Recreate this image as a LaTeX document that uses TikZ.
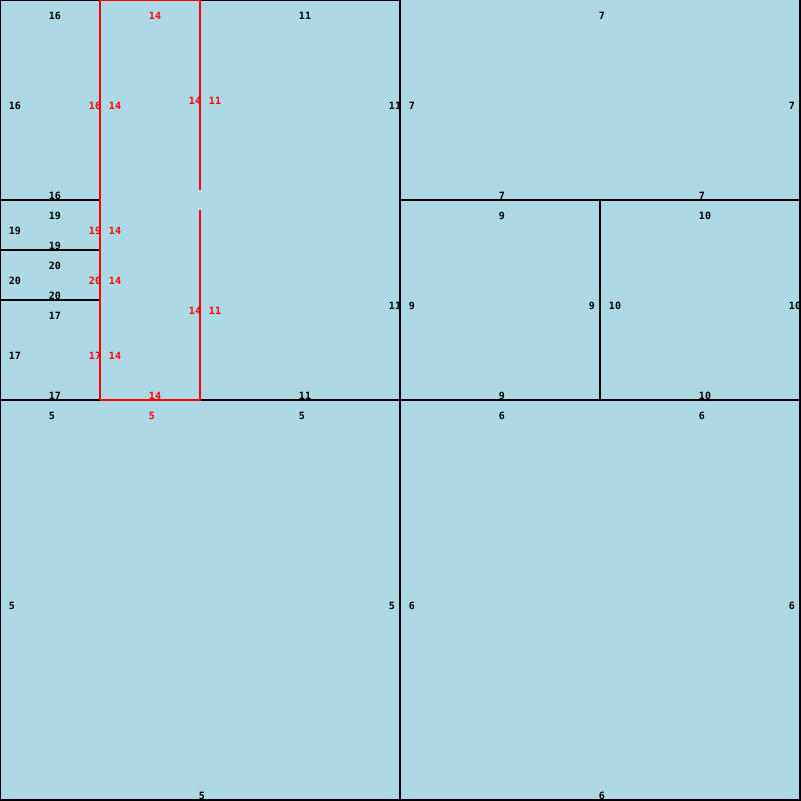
\documentclass[tikz,border=0pt]{standalone}
\usepackage{fontspec}
\newfontfamily\cellfont{DejaVu Sans Mono}
\usetikzlibrary{positioning}
\definecolor{cellblue}{HTML}{ADD8E6}

\begin{document}
\begin{tikzpicture}[x=1pt,y=-1pt,
    cellid/.style={font=\cellfont\bfseries\fontsize{10}{10}\selectfont,inner sep=0pt},
    hotid/.style={cellid,text=red},
    wall/.style={black,line width=2pt},
    hotwall/.style={red,line width=2pt}]
    \useasboundingbox (0,0) rectangle (801,801);
    \clip (0,0) rectangle (801,801);
    \fill[cellblue] (0,0) rectangle (801,801);

    % edge labels of each cell
    \foreach \x/\y/\t [count=\i] in {55/16/16,15/106/16,55/196/16,
      55/216/19,15/231/19,55/246/19,
      55/266/20,15/281/20,55/296/20,
      55/316/17,15/356/17,55/396/17,
      305/16/11,395/106/11,395/306/11,305/396/11,
      602/16/7,412/106/7,792/106/7,502/196/7,702/196/7,
      502/216/9,412/306/9,592/306/9,502/396/9,
      705/216/10,615/306/10,795/306/10,705/396/10,
      52/416/5,302/416/5,12/606/5,392/606/5,202/796/5,
      502/416/6,702/416/6,412/606/6,792/606/6,602/796/6}
      \node[cellid] (lab\i) at (\x,\y) {\t};

    % labels next to the marked cell
    \foreach \x/\y/\t [count=\i] in {95/106/16,95/231/19,95/281/20,95/356/17,
      155/16/14,115/106/14,115/231/14,115/281/14,115/356/14,
      195/101/14,195/311/14,155/396/14,
      215/101/11,215/311/11,152/416/5}
      \node[hotid] (hot\i) at (\x,\y) {\t};

    \draw[wall] (0,0) -- (0,800) -- (800,800) -- (800,0);
    \draw[wall] (0,0) -- (100,0) (200,0) -- (400,0);
    \draw[wall] (400,0) -- (400,800);
    \draw[wall] (0,400) -- (100,400) (200,400) -- (800,400);
    \draw[wall] (0,200) -- (100,200) (0,250) -- (100,250) (0,300) -- (100,300);
    \draw[wall] (400,200) -- (800,200);
    \draw[wall] (600,200) -- (600,400);

    \draw[hotwall] (100,400) -- (100,0) -- (200,0) -- (200,190);
    \draw[hotwall] (200,210) -- (200,400) -- (100,400);
  \end{tikzpicture}
\end{document}
